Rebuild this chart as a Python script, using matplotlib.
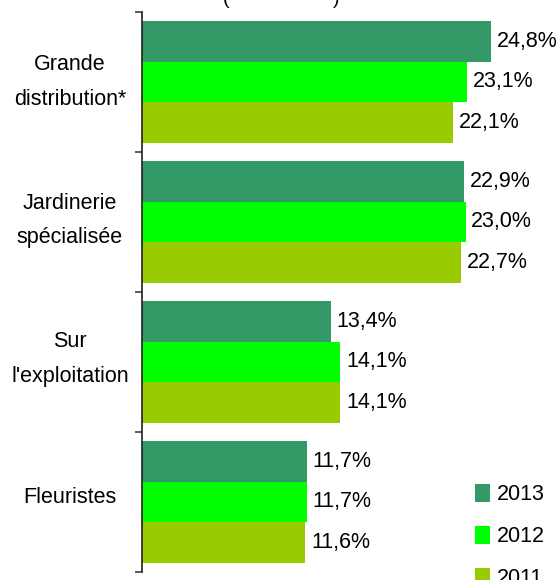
import matplotlib.pyplot as plt
import numpy as np

plt.rcParams['font.family'] = ['Liberation Sans', 'DejaVu Sans']

categories = ["Grande\ndistribution*", "Jardinerie\nspécialisée", "Sur\nl'exploitation", "Fleuristes"]
years = ["2013", "2012", "2011"]
v2013 = [24.8, 22.9, 13.4, 11.7]
v2012 = [23.1, 23.0, 14.1, 11.7]
v2011 = [22.1, 22.7, 14.1, 11.6]
colors = ["#339966", "#00FF00", "#99CC00"]

fig = plt.figure(figsize=(5.6, 5.8), dpi=100)
ax = fig.add_axes([142 / 560, 1 - 572 / 580, 1 - 142 / 560, 560 / 580])

y = np.arange(len(categories))
h = 0.29
series = [v2013, v2012, v2011]
for k, (vals, col, lab) in enumerate(zip(series, colors, years)):
    pos = y + (k - 1) * h
    ax.barh(pos, vals, height=h, color=col, label=lab)
    for p, v in zip(pos, vals):
        ax.text(v + 0.4, p, f"{v:.1f}%".replace(".", ","), va="center", ha="left", fontsize=15.5)

ax.set_xlim(0, 29.7)
ax.set_ylim(3.5, -0.5)
ax.set_yticks(np.arange(-0.5, 4.0, 1.0))
ax.set_yticklabels([])
ax.tick_params(axis="y", direction="out", length=5, color="#404040", width=1.2)
ax.set_xticks([])
for s in ["top", "right", "bottom"]:
    ax.spines[s].set_visible(False)
ax.spines["left"].set_color("#202020")
ax.spines["left"].set_linewidth(1.2)

for i, c in enumerate(categories):
    fig.text(70 / 560, 1 - (82 + i * 138.5) / 580, c, ha="center", va="center", fontsize=15.5, linespacing=1.85)

ax.legend(loc="upper left", bbox_to_anchor=(475 / 560, 1 - 484 / 580), bbox_transform=fig.transFigure,
          frameon=False, fontsize=15.5, handlelength=0.7, handleheight=0.9, handletextpad=0.3,
          labelspacing=0.95, borderpad=0, borderaxespad=0)

# title cut off at the top
fig.text(223 / 560, 1 - 4 / 580, "(", fontsize=14, ha="left", va="baseline")
fig.text(333 / 560, 1 - 4 / 580, ")", fontsize=14, ha="left", va="baseline")

plt.savefig("out.png")
